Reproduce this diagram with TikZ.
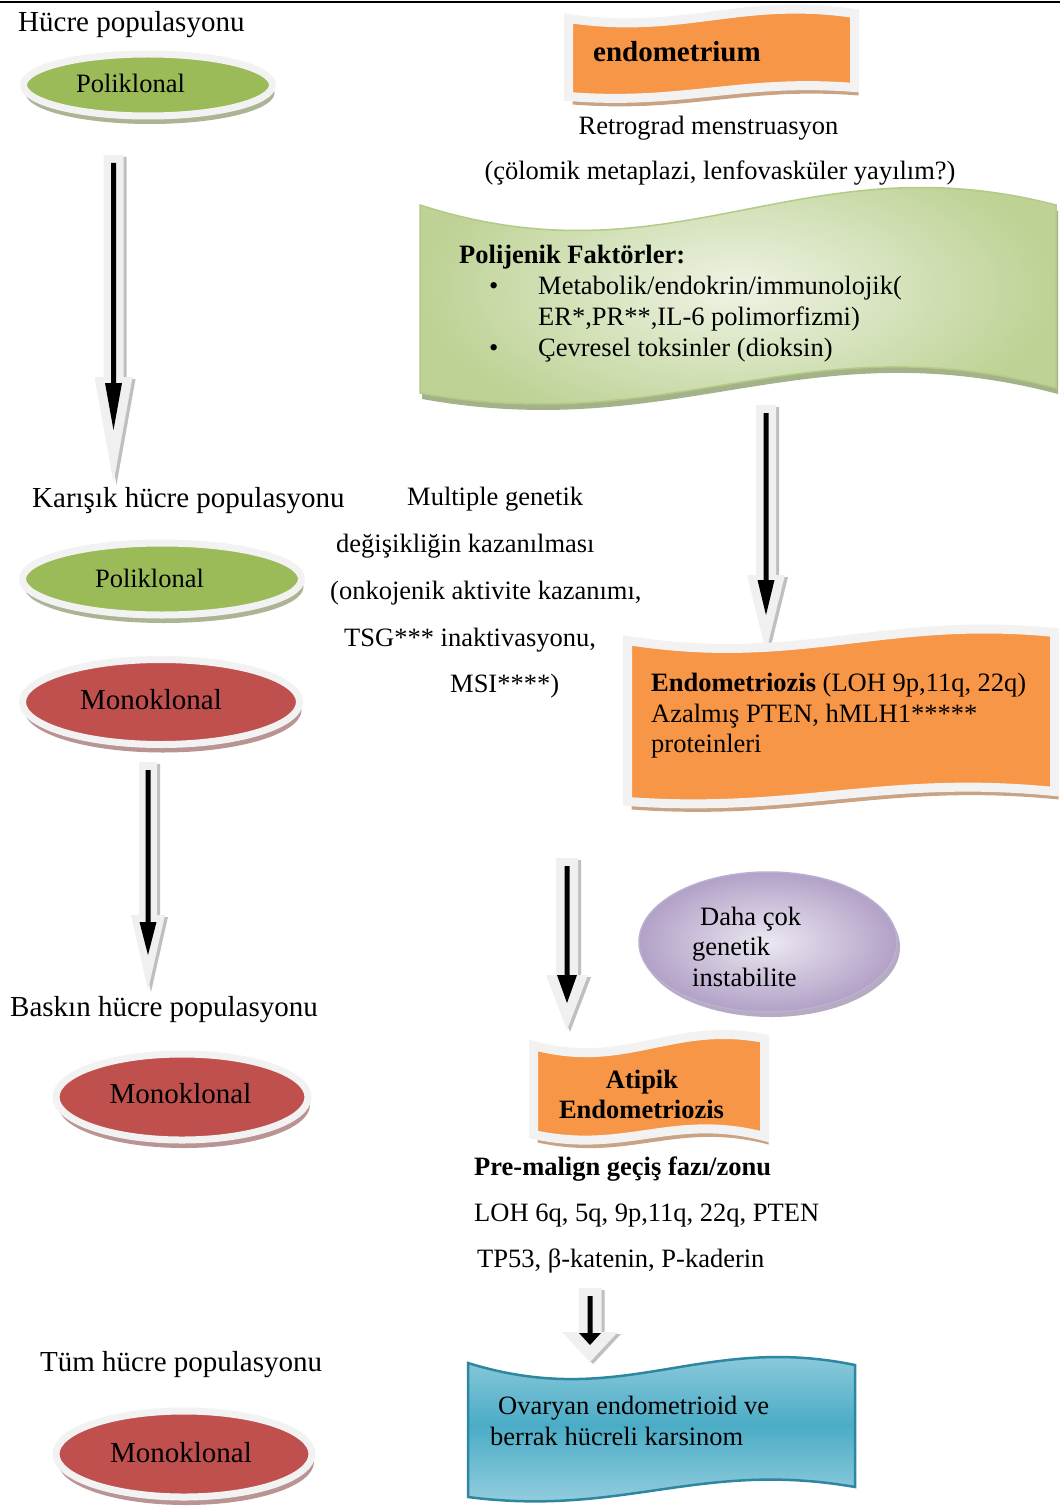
\documentclass[tikz,border=0pt]{standalone}
\usepackage{fontspec}
\setmainfont{Liberation Serif}
\usetikzlibrary{shapes.geometric,shadows}
\definecolor{ringc}{HTML}{F2F2F2}
\definecolor{grn}{HTML}{9BBB59}
\definecolor{grnsh}{HTML}{A2AD88}
\definecolor{redc}{HTML}{C0504D}
\definecolor{redsh}{HTML}{B38888}
\definecolor{orc}{HTML}{F79646}
\definecolor{orsh}{HTML}{C9A383}
\definecolor{lgin}{HTML}{EEF3E4}
\definecolor{lgout}{HTML}{BDD294}
\definecolor{lgline}{HTML}{B3CB87}
\definecolor{lgsh}{HTML}{A3B289}
\definecolor{pin}{HTML}{ECE8F1}
\definecolor{pout}{HTML}{B2A1C7}
\definecolor{pline}{HTML}{BCAFD0}
\definecolor{psh}{HTML}{A497B4}
\definecolor{bllight}{HTML}{A0D3E2}
\definecolor{bldark}{HTML}{4BACC6}
\definecolor{blline}{HTML}{2E86A0}
\definecolor{arrl}{HTML}{F0F0F0}
\definecolor{arrsh}{HTML}{BFBFBF}
% wave edges: l, w, yLeft, yRight, A (down ctrl), B (up ctrl)
\newcommand\wtop[6]{({#1},{#3}) .. controls ({#1+0.4*#2},{#3+#5}) and ({#1+0.6*#2},{#3-#6}) .. ({#1+#2},{#4})}
\newcommand\wbot[6]{-- ({#1+#2},{#4}) .. controls ({#1+0.6*#2},{#3-#6}) and ({#1+0.4*#2},{#3+#5}) .. ({#1},{#3}) -- cycle}
\def\endopath{\wtop{568.5}{286}{18.5}{13.5}{17}{22}\wbot{568.5}{286}{96.5}{87.5}{9}{18}}
\def\greenpath{\wtop{420}{636}{205}{205}{82}{66}\wbot{420}{636}{393}{388}{46}{72}}
\def\endozpath{\wtop{627.5}{427}{640.5}{632.5}{27}{25}\wbot{627.5}{427}{801.5}{791.5}{12}{27}}
\def\atippath{\wtop{533.5}{231}{1045.5}{1038.5}{25}{25}\wbot{533.5}{231}{1134.5}{1136.5}{20}{22}}
\def\bluepath{\wtop{468}{387}{1363}{1365}{48}{30}\wbot{468}{387}{1497}{1487}{20}{37}}
% block arrow: x, top, tip, shaftw, headw, headstart, blackheadstart, blacktip, blackheadw
\newcommand\blockarrow[9]{%
  \fill[arrsh] ({#1-#4/2+3},{#2+2}) -- ({#1+#4/2+3},{#2+2}) -- ({#1+#4/2+3},{#6+2}) -- ({#1+#5/2+3},{#6+2}) -- ({#1+3},{#3+2}) -- ({#1-#5/2+3},{#6+2}) -- ({#1-#4/2+3},{#6+2}) -- cycle;
  \fill[arrl] ({#1-#4/2},{#2}) -- ({#1+#4/2},{#2}) -- ({#1+#4/2},{#6}) -- ({#1+#5/2},{#6}) -- ({#1},{#3}) -- ({#1-#5/2},{#6}) -- ({#1-#4/2},{#6}) -- cycle;
  \fill[black] ({#1-2.5},{#2+8}) -- ({#1+2.5},{#2+8}) -- ({#1+2.5},{#7}) -- ({#1+#9/2},{#7}) -- ({#1},{#8}) -- ({#1-#9/2},{#7}) -- ({#1-2.5},{#7}) -- cycle;
}
\tikzset{
  lbl/.style={font=\fontsize{26.5}{31}\selectfont, inner sep=0pt, anchor=base west},
  lblc/.style={lbl, anchor=base},
  biglbl/.style={font=\fontsize{29}{34}\selectfont, inner sep=0pt, anchor=base west},
  biglblc/.style={biglbl, anchor=base},
  cell/.style={ellipse, draw=ringc, line width=7pt, inner sep=0pt,
    drop shadow={shadow xshift=2pt, shadow yshift=-8pt, fill=#1, opacity=0.9}},
  banner/.style={draw=ringc, line width=9pt, fill=orc},
}
\begin{document}
\begin{tikzpicture}[x=1pt,y=-1pt]
\useasboundingbox (0,0) rectangle (1060,1506);
\fill[white] (0,0) rectangle (1060,1506);
\draw[line width=2.5pt] (0,2) -- (1060,2);

% ---- left column ----
\node[biglbl] (h1) at (18,32) {Hücre populasyonu};
\node[cell=grnsh, fill=grn, minimum width=249, minimum height=62] (e1) at (148,85) {};
\node[lblc] (e1t) at (130.5,93) {Poliklonal};
\blockarrow{113.5}{155}{483}{20}{38}{377}{383}{430}{17}

\node[biglbl] (h2) at (32,507) {Karışık hücre populasyonu};
\node[cell=grnsh, fill=grn, minimum width=279, minimum height=72] (e2) at (162,579) {};
\node[lblc] (e2t) at (149.5,587) {Poliklonal};
\node[cell=redsh, fill=redc, minimum width=277, minimum height=85] (e3) at (161,702) {};
\node[biglblc] (e3t) at (151,709) {Monoklonal};
\blockarrow{148}{762}{990}{18}{34}{915}{922}{955}{17}

\node[biglbl] (h3) at (10,1016) {Baskın hücre populasyonu};
\node[cell=redsh, fill=redc, minimum width=252, minimum height=86] (e4) at (182,1097) {};
\node[biglblc] (e4t) at (180.5,1103) {Monoklonal};

\node[biglbl] (h4) at (40,1371) {Tüm hücre populasyonu};
\node[cell=redsh, fill=redc, minimum width=256, minimum height=86] (e5) at (184,1454) {};
\node[biglblc] (e5t) at (181,1462) {Monoklonal};

% ---- middle text ----
\node[lbl] (m1) at (407,505) {Multiple genetik};
\node[lbl] (m2) at (336,552) {değişikliğin kazanılması};
\node[lbl] (m3) at (330,599) {(onkojenik aktivite kazanımı,};
\node[lbl] (m4) at (344,646) {TSG*** inaktivasyonu,};
\node[lbl] (m5) at (450,692) {MSI****)};

% ---- right column ----
\fill[orsh, shift={(4,8)}] \endopath;
\path[banner] \endopath;
\node[font=\fontsize{29}{34}\selectfont\bfseries, inner sep=0pt, anchor=base west] (endo) at (593,62) {endometrium};
\node[lblc] (r1) at (708.5,135) {Retrograd menstruasyon};
\node[lblc] (r2) at (720,180) {(çölomik metaplazi, lenfovasküler yayılım?)};

\fill[lgsh, shift={(2,6)}] \greenpath;
\path[draw=lgline, line width=1.5pt, inner color=lgin, outer color=lgout] \greenpath;
\node[lbl, font=\fontsize{26.5}{31}\selectfont\bfseries] (pf) at (459,264) {Polijenik Faktörler:};
\node[lbl] (b1) at (489,294) {•};
\node[lbl] (p1) at (538,294) {Metabolik/endokrin/immunolojik(};
\node[lbl] (p2) at (538,325) {ER*,PR**,IL-6 polimorfizmi)};
\node[lbl] (b2) at (489,356) {•};
\node[lbl] (p3) at (538,356) {Çevresel toksinler (dioksin)};

\blockarrow{766}{405}{652}{20}{38}{575}{580}{615}{17}

\fill[orsh, shift={(4,8)}] \endozpath;
\path[banner] \endozpath;
\node[lbl] (en1) at (651,691) {\textbf{Endometriozis} (LOH 9p,11q, 22q)};
\node[lbl] (en2) at (651,722) {Azalmış PTEN, hMLH1*****};
\node[lbl] (en3) at (651,752) {proteinleri};

\blockarrow{567}{858}{1030}{22}{42}{975}{975}{1003}{20}

\node[ellipse, minimum width=258, minimum height=140, draw=pline, line width=1.5pt, inner color=pin, outer color=pout,
  drop shadow={shadow xshift=3pt, shadow yshift=-5pt, fill=psh, opacity=0.8}] (pe) at (768,942) {};
\node[lbl] (d1) at (700,925) {Daha çok};
\node[lbl] (d2) at (692,955) {genetik};
\node[lbl] (d3) at (692,986) {instabilite};

\fill[orsh, shift={(4,8)}] \atippath;
\path[banner] \atippath;
\node[lblc, font=\fontsize{26.5}{31}\selectfont\bfseries] (at1) at (642,1088) {Atipik};
\node[lblc, font=\fontsize{26.5}{31}\selectfont\bfseries] (at2) at (641.5,1118) {Endometriozis};

\node[lbl, font=\fontsize{26.5}{31}\selectfont\bfseries] (pm) at (474,1175) {Pre-malign geçiş fazı/zonu};
\node[lbl] (l1) at (474,1221) {LOH 6q, 5q, 9p,11q, 22q, PTEN};
\node[lbl] (l2) at (477,1267) {TP53, β-katenin, P-kaderin};

\blockarrow{590}{1288}{1362}{23}{56}{1332}{1333}{1345}{22}

\path[draw=blline, line width=2.5pt, top color=bllight, bottom color=bllight, middle color=bldark] \bluepath;
\node[lbl] (o1) at (498,1414) {Ovaryan endometrioid ve};
\node[lbl] (o2) at (490,1445) {berrak hücreli karsinom};
\end{tikzpicture}
\end{document}
